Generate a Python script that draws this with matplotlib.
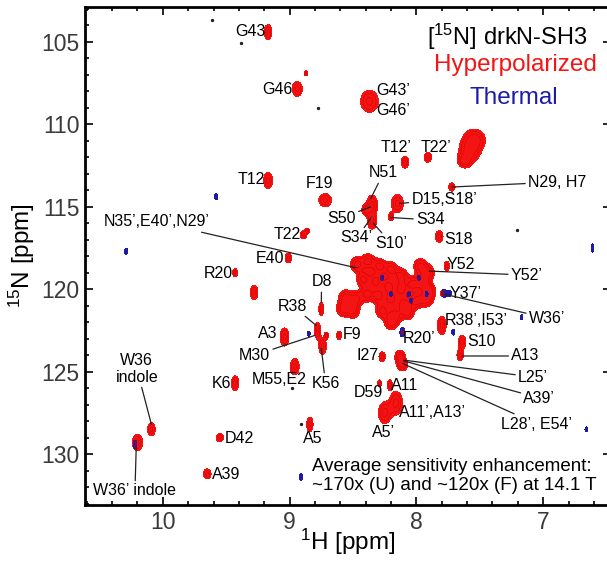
import numpy as np
import matplotlib.pyplot as plt

plt.rcParams['font.family'] = ['Liberation Sans', 'DejaVu Sans']
plt.rcParams['mathtext.fontset'] = 'custom'
plt.rcParams['mathtext.rm'] = 'Liberation Sans'
plt.rcParams['mathtext.it'] = 'Liberation Sans:italic'

# hyperpolarized peaks: 1H shift, 15N shift, half widths (ppm)
red_H = [9.17, 8.94, 8.87, 9.17, 8.89, 8.86, 9.01, 9.43, 8.37, 8.09, 7.91,
         7.54, 7.58, 7.62, 7.72, 8.72, 8.35, 8.35, 8.40, 8.15, 8.20, 7.82,
         7.76, 7.79, 7.80, 7.64, 7.655, 8.75, 8.78, 8.74, 8.61, 8.71, 9.04,
         8.96, 9.28, 9.43, 9.55, 9.65, 10.09, 10.20, 8.27, 8.13, 8.11, 8.29,
         8.21, 8.16, 8.25, 8.84, 8.11,
         8.47, 8.38, 8.29, 8.20, 8.12, 7.97, 7.91, 8.42, 8.32, 8.22, 8.12,
         8.03, 7.95, 7.90, 8.56, 8.48, 8.39, 8.30, 8.20, 8.10, 8.00, 7.92,
         8.58, 8.50, 8.27, 8.17, 8.07, 8.20]
red_N = [104.4, 107.85, 106.9, 113.4, 116.7, 116.45, 118.1, 119.0, 108.6,
         112.3, 112.0, 110.9, 111.6, 112.2, 113.8, 114.6, 114.9, 115.9, 115.2,
         114.8, 115.6, 116.8, 118.6, 120.25, 122.2, 123.2, 124.0, 121.2, 122.5,
         123.45, 122.8, 122.8, 122.9, 124.7, 120.2, 125.7, 129.0, 131.2, 128.5,
         129.3, 124.1, 124.1, 124.6, 125.7, 125.8, 126.9, 127.5, 128.2, 122.6,
         118.5, 118.3, 118.6, 118.8, 119.2, 118.6, 119.0, 119.4, 119.5, 119.8,
         120.0, 119.7, 119.6, 120.1, 120.5, 120.6, 120.3, 120.4, 120.6, 120.9,
         120.7, 120.6, 121.2, 121.3, 121.3, 121.6, 121.4, 122.0]
red_wH = [0.03, 0.04, 0.015, 0.035, 0.025, 0.015, 0.025, 0.02, 0.07, 0.03,
          0.03, 0.08, 0.08, 0.05, 0.025, 0.05, 0.045, 0.035, 0.03, 0.047, 0.02,
          0.03, 0.02, 0.02, 0.035, 0.03, 0.025, 0.02, 0.025, 0.03, 0.02, 0.015,
          0.035, 0.035, 0.03, 0.03, 0.03, 0.03, 0.03, 0.04, 0.025, 0.04, 0.04,
          0.015, 0.02, 0.05, 0.05, 0.025, 0.012] + [0.05] * 28
red_wN = [0.45, 0.45, 0.15, 0.5, 0.25, 0.15, 0.3, 0.25, 0.67, 0.35, 0.3, 0.6,
          0.7, 0.4, 0.25, 0.4, 0.6, 0.45, 0.3, 0.55, 0.25, 0.35, 0.3, 0.22,
          0.55, 0.4, 0.35, 0.4, 0.5, 0.5, 0.25, 0.2, 0.55, 0.5, 0.45, 0.45,
          0.25, 0.3, 0.4, 0.5, 0.3, 0.4, 0.35, 0.2, 0.3, 0.7, 0.65, 0.45,
          0.15] + [0.45] * 28

# thermal peaks (only the visible ones)
blue_H = [9.58, 10.29, 6.61, 7.78, 7.17, 7.71, 8.11, 8.85, 6.66, 8.91, 10.22,
          8.27, 8.20, 8.06, 8.04, 7.98, 7.92, 7.74]
blue_N = [114.4, 117.7, 117.5, 120.25, 121.7, 122.6, 122.6, 122.7, 128.5,
          131.4, 129.4, 119.3, 120.3, 120.3, 120.7, 119.3, 120.3, 120.25]
blue_wH = [0.012, 0.012, 0.01, 0.02, 0.01, 0.012, 0.02, 0.012, 0.01, 0.012,
           0.015, 0.012, 0.012, 0.012, 0.012, 0.012, 0.012, 0.015]
blue_wN = [0.18, 0.2, 0.25, 0.25, 0.15, 0.18, 0.3, 0.15, 0.15, 0.22, 0.25,
           0.15, 0.15, 0.15, 0.15, 0.15, 0.15, 0.2]

# noise specks
noise_H = [9.61, 9.38, 8.78, 7.21, 8.98, 8.91]
noise_N = [103.67, 105.06, 109.0, 116.4, 126.0, 128.2]

# assignments: text, label (H, N), line target (H, N) or None
labels = [
    ("G43", 9.307, 104.39, None), ("G46", 9.094, 107.91, None),
    ("T12", 9.30, 113.37, None), ("T22", 9.016, 116.71, None),
    ("E40", 9.157, 118.11, None), ("R20", 9.559, 119.02, None),
    ("N35’,E40’,N29’", 10.047, 115.92, (8.47, 118.71)),
    ("F19", 8.764, 113.56, None), ("G43’", 8.181, 107.97, None),
    ("G46’", 8.181, 109.13, None), ("T12’", 8.157, 111.43, None),
    ("T22’", 7.843, 111.43, None), ("N29, H7", 6.89, 113.5, (7.72, 113.8)),
    ("N51", 8.26, 112.95, (8.36, 114.5)), ("S50", 8.59, 115.68, (8.36, 115.0)),
    ("S34’", 8.47, 116.89, (8.36, 115.7)), ("S10’", 8.20, 117.2, (8.34, 116.0)),
    ("D15,S18’", 7.78, 114.53, (8.13, 114.8)), ("S34", 7.89, 115.8, (8.20, 115.65)),
    ("S18", 7.67, 117.01, None), ("Y52", 7.65, 118.53, None),
    ("Y52’", 7.13, 119.14, (7.90, 118.9)), ("Y37’", 7.61, 120.23, None),
    ("W36’", 6.97, 121.75, (7.78, 120.3)), ("R38’,I53’", 7.53, 121.87, None),
    ("R20’", 7.976, 122.96, None), ("S10", 7.49, 123.2, None),
    ("A13", 7.14, 124.05, (7.64, 124.05)), ("L25’", 7.08, 125.33, (8.10, 124.3)),
    ("A39’", 7.03, 126.6, (8.10, 124.35)), ("L28’, E54’", 7.05, 128.18, (8.11, 124.5)),
    ("I27", 8.386, 124.0, None), ("D59", 8.378, 126.24, None),
    ("A11", 8.094, 125.87, None), ("A11’,A13’", 7.874, 127.45, None),
    ("A5’", 8.26, 128.67, None), ("A5", 8.82, 129.03, None),
    ("K56", 8.717, 125.69, (8.75, 123.6)), ("F9", 8.51, 122.72, None),
    ("D8", 8.748, 119.56, (8.75, 120.8)), ("R38", 8.976, 121.02, (8.79, 122.2)),
    ("A3", 9.17, 122.66, None), ("M30", 9.276, 124.0, (8.80, 122.8)),
    ("M55,E2", 9.079, 125.5, None), ("K6", 9.535, 125.69, None),
    ("D42", 9.40, 129.03, None), ("A39", 9.504, 131.27, None),
    ("W36\nindole", 10.205, 124.84, (10.09, 128.2)),
    ("W36’ indole", 10.22, 132.24, (10.21, 129.6)),
]

H = np.linspace(6.3, 10.8, 1150)
N = np.linspace(102.5, 133.5, 1100)
HH, NN = np.meshgrid(H, N)


def spectrum(h, n, wh, wn):
    z = np.zeros_like(HH)
    for a, b, c, d in zip(h, n, wh, wn):
        z += np.exp(1 - ((HH - a) / c) ** 2 - ((NN - b) / d) ** 2)
    return z


red = spectrum(red_H, red_N, red_wH, red_wN)
blue = spectrum(blue_H, blue_N, blue_wH, blue_wN)

fig = plt.figure(figsize=(6.07, 5.63), dpi=100)
ax = fig.add_axes([85 / 607, 58 / 563, 526 / 607, 498 / 563])

ax.contourf(HH, NN, red, levels=[1, 1e6], colors=['#f41414'])
ax.contour(HH, NN, red, levels=[1.6, 2.4], colors=['#d80000'], linewidths=0.4)
ax.contourf(HH, NN, blue, levels=[1, 1e6], colors=['#1c1ca8'])
ax.scatter(noise_H, noise_N, s=2, color='#222222', zorder=3)

for txt, lh, ln, target in labels:
    if target is None:
        ax.text(lh, ln, txt, fontsize=11.5, ha='center', va='center',
                linespacing=1.1)
    else:
        ax.annotate(txt, xy=target, xytext=(lh, ln), fontsize=11.5,
                    ha='center', va='center', linespacing=1.1,
                    arrowprops=dict(arrowstyle='-', color='#222222', lw=0.9,
                                    shrinkA=0, shrinkB=0))

ax.text(7.28, 104.7, '[$^{15}$N] drkN-SH3', fontsize=17, ha='center',
        va='center')
ax.text(7.22, 106.4, 'Hyperpolarized', fontsize=17.5, ha='center',
        va='center', color='#f41414')
ax.text(7.23, 108.4, 'Thermal', fontsize=17.5, ha='center', va='center',
        color='#1c1ca8')
ax.text(8.82, 131.33,
        'Average sensitivity enhancement:\n~170x (U) and ~120x (F) at 14.1 T',
        fontsize=13.5, ha='left', va='center')

ax.set_xlim(10.614, 6.465)
ax.set_ylim(133.09, 102.88)
ax.set_xticks([10, 9, 8, 7])
ax.set_xticks(np.arange(6.6, 10.61, 0.2), minor=True)
ax.set_yticks([105, 110, 115, 120, 125, 130])
ax.set_yticks(np.arange(103, 134, 1), minor=True)
ax.tick_params(which='both', direction='in', top=True, right=True,
               width=1.2, labelsize=16.5, labelcolor='#3a3a3a', pad=4)
ax.tick_params(which='major', length=6)
ax.tick_params(which='minor', length=3)
for sp in ax.spines.values():
    sp.set_linewidth(2)
ax.set_xlabel('$^{1}$H [ppm]', fontsize=17.5, labelpad=-5)
ax.set_ylabel('$^{15}$N [ppm]', fontsize=17.5, labelpad=3)

fig.savefig('out.png', dpi=100)
